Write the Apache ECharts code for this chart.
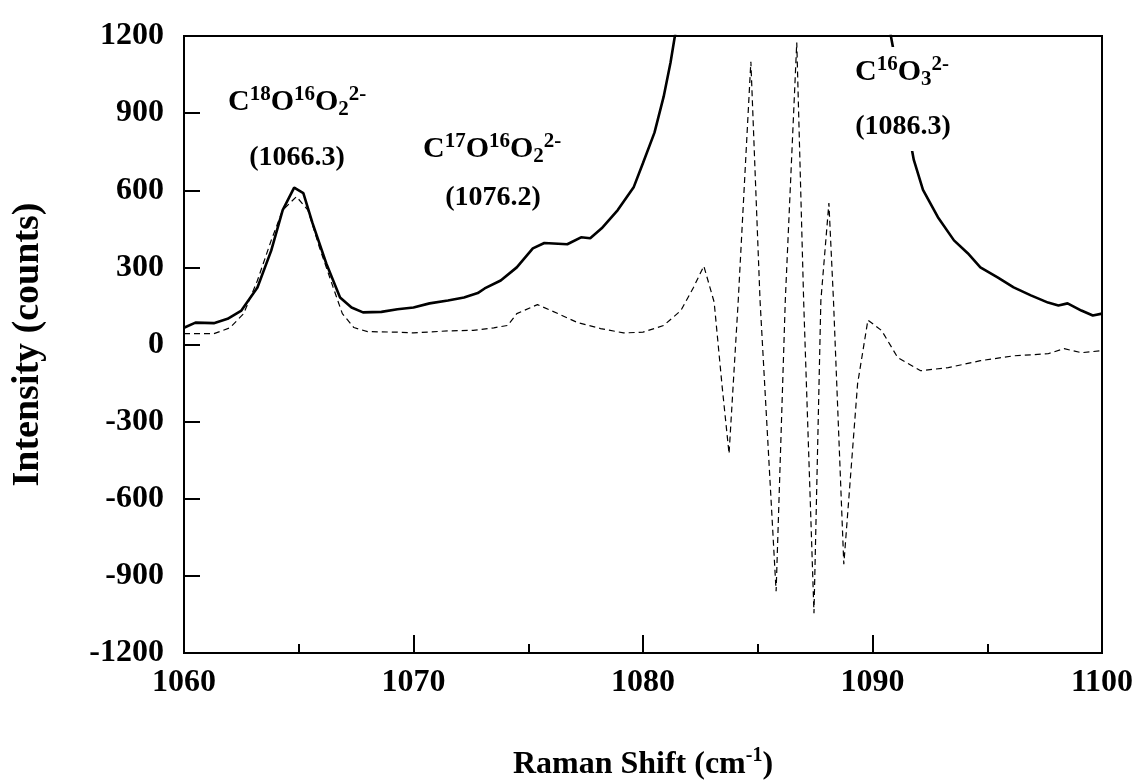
<!DOCTYPE html>
<html><head><meta charset="utf-8">
<script src="https://cdn.jsdelivr.net/npm/echarts@6/dist/echarts.min.js"></script>
<style>html,body{margin:0;padding:0;background:#fff}#c{width:1141px;height:781px}</style>
</head><body><div id="c"></div>
<script>
// Solid spectrum (Raman shift, counts)
const solidX = [1060.0,1060.5,1061.3,1061.9,1062.5,1063.2,1063.8,1064.3,1064.8,1065.2,1065.6,1066.2,1066.8,1067.3,1067.8,1068.6,1069.3,1070.0,1070.7,1071.5,1072.2,1072.8,1073.1,1073.8,1074.5,1075.2,1075.7,1076.7,1077.3,1077.7,1078.2,1078.9,1079.6,1080.0,1080.5,1080.9,1081.2,1081.4,1082.0,1090.0,1090.8,1091.8,1092.2,1092.85,1093.55,1094.15,1094.7,1095.45,1096.15,1096.9,1097.65,1098.1,1098.5,1099.1,1099.6,1100.0];
const solidY = [65,85,83,100,132,222,365,523,610,589,472,315,183,144,125,127,137,144,160,171,183,200,218,249,300,374,395,390,417,413,452,523,613,706,824,964,1097,1206,1600,1900,1200,718,601,495,405,355,300,261,222,191,163,152,160,132,113,120];
// Dashed spectrum
const dashX = [1060.0,1061.3,1062.0,1062.6,1063.2,1063.8,1064.3,1064.9,1065.4,1065.9,1066.5,1066.9,1067.4,1068.0,1069.3,1070.0,1071.5,1072.6,1073.5,1074.1,1074.5,1075.4,1076.3,1077.15,1078.15,1079.15,1080.0,1080.9,1081.65,1082.2,1082.65,1083.1,1083.45,1083.75,1084.15,1084.7,1085.1,1085.8,1086.2,1086.7,1087.0,1087.45,1087.75,1088.1,1088.3,1088.75,1089.35,1089.8,1090.4,1091.1,1092.1,1093.3,1094.7,1096.15,1097.65,1098.35,1099.1,1100.0];
const dashY = [42,42,65,120,249,405,523,575,523,378,222,120,66,50,48,45,53,55,65,74,120,155,120,85,62,45,48,74,132,222,305,165,-165,-425,171,1100,171,-960,171,1175,171,-1045,171,550,171,-855,-153,95,54,-51,-102,-90,-63,-44,-36,-16,-32,-24];
// Axis ticks
const xTickMin = 1060, xTickMax = 1100, xTickStep = 10;
const yTickMin = -1200, yTickMax = 1200, yTickStep = 300;
// Annotations
const annoMain = [
  '{m|C}{sup|18}{m|O}{sup|16}{m|O}{sub|2}{sup|2-}',
  '{m|C}{sup|17}{m|O}{sup|16}{m|O}{sub|2}{sup|2-}',
  '{m|C}{sup|16}{m|O}{sub|3}{sup|2-}'
];
const annoPos = ['(1066.3)', '(1076.2)', '(1086.3)'];

const F = '"Liberation Serif","Times New Roman",serif';
const rich = {
  m: {fontSize: 30, fontWeight: 'bold', fontFamily: F, color: '#000', lineHeight: 36, verticalAlign: 'middle'},
  p: {fontSize: 28, fontWeight: 'bold', fontFamily: F, color: '#000', lineHeight: 34, verticalAlign: 'middle'},
  sup: {fontSize: 21, fontWeight: 'bold', fontFamily: F, color: '#000', lineHeight: 28, verticalAlign: 'top'},
  sub: {fontSize: 21, fontWeight: 'bold', fontFamily: F, color: '#000', lineHeight: 14, verticalAlign: 'bottom'}
};
const nameRich = {
  m: {fontSize: 32, fontWeight: 'bold', fontFamily: F, color: '#000', lineHeight: 38, verticalAlign: 'middle'},
  sup: {fontSize: 20, fontWeight: 'bold', fontFamily: F, color: '#000', lineHeight: 28, verticalAlign: 'top'}
};

const chart = echarts.init(document.getElementById('c'), null, {renderer: 'canvas'});
function txt(text, x, y, align) {
  return {type: 'text', x: x, y: y, z: 100, style: {text: text, rich: rich, align: align, verticalAlign: 'middle', fontFamily: F, fontWeight: 'bold', fontSize: 29, fill: '#000'}};
}
chart.setOption({
  animation: false,
  backgroundColor: '#fff',
  grid: {left: 184, right: 39, top: 36, bottom: 128, show: true, borderColor: '#000', borderWidth: 2,
         backgroundColor: 'transparent', containLabel: false, outerBoundsMode: 'none'},
  xAxis: {
    type: 'value', min: xTickMin, max: xTickMax, interval: xTickStep,
    name: '{m|Raman Shift (cm}{sup|-1}{m|)}', nameLocation: 'middle', nameGap: 93,
    nameTextStyle: {rich: nameRich},
    axisLine: {show: true, onZero: false, lineStyle: {color: '#000', width: 2}},
    axisTick: {show: true, inside: true, length: 18, lineStyle: {color: '#000', width: 2}},
    minorTick: {show: true, splitNumber: 2, length: 9, lineStyle: {color: '#000', width: 2}},
    splitLine: {show: false},
    axisLabel: {color: '#000', fontFamily: F, fontWeight: 'bold', fontSize: 32, margin: 14,
                formatter: v => String(v)}
  },
  yAxis: {
    type: 'value', min: yTickMin, max: yTickMax, interval: yTickStep,
    name: 'Intensity (counts)', nameLocation: 'middle', nameGap: 137, nameRotate: 90,
    nameTextStyle: {color: '#000', fontFamily: F, fontWeight: 'bold', fontSize: 38},
    axisLine: {show: true, onZero: false, lineStyle: {color: '#000', width: 2}},
    axisTick: {show: true, inside: true, length: 16, lineStyle: {color: '#000', width: 2}},
    splitLine: {show: false},
    axisLabel: {color: '#000', fontFamily: F, fontWeight: 'bold', fontSize: 32, margin: 20,
                padding: [0, 0, 10, 0], formatter: v => String(v)}
  },
  series: [
    {type: 'line', data: dashX.map((x, i) => [x, dashY[i]]), showSymbol: false, clip: true, z: 2,
     lineStyle: {color: '#000', width: 1.2, type: [6, 4]}},
    {type: 'line', data: solidX.map((x, i) => [x, solidY[i]]), showSymbol: false, clip: true, z: 3,
     lineStyle: {color: '#000', width: 2.6}}
  ],
  graphic: [
    {type: 'rect', z: 99, shape: {x: 850, y: 47, width: 110, height: 104}, style: {fill: '#fff'}},
    txt(annoMain[0], 228, 102, 'left'),
    txt('{p|' + annoPos[0] + '}', 297, 158, 'center'),
    txt(annoMain[1], 423, 149, 'left'),
    txt('{p|' + annoPos[1] + '}', 493, 198, 'center'),
    txt(annoMain[2], 855, 72, 'left'),
    txt('{p|' + annoPos[2] + '}', 903, 127, 'center')
  ]
});
</script></body></html>
